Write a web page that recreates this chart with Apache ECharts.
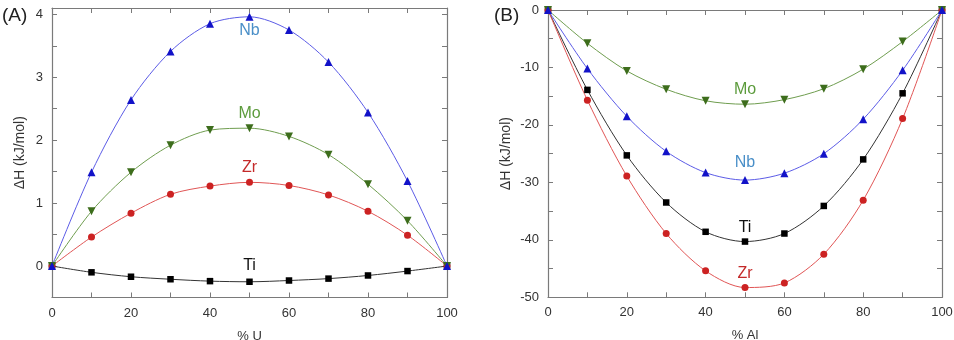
<!DOCTYPE html>
<html><head><meta charset="utf-8">
<script src="https://cdn.jsdelivr.net/npm/echarts@6/dist/echarts.min.js"></script>
<style>html,body{margin:0;padding:0;background:#fff}#c{width:954px;height:340px}</style>
</head><body><div id="c"></div>
<script>
const xVals = [0,10,20,30,40,50,60,70,80,90,100];
// Panel A: % U
const aNb = [0,1.49,2.64,3.41,3.85,3.96,3.75,3.24,2.44,1.35,0];
const aMo = [0,0.87,1.49,1.92,2.16,2.19,2.06,1.77,1.30,0.72,0];
const aZr = [0,0.46,0.84,1.14,1.27,1.33,1.28,1.13,0.87,0.49,0];
const aTi = [0,-0.10,-0.17,-0.21,-0.24,-0.25,-0.23,-0.20,-0.15,-0.08,0];
// Panel B: % Al
const bMo = [0,-5.8,-10.6,-13.8,-15.8,-16.4,-15.6,-13.7,-10.3,-5.5,0];
const bNb = [0,-10.2,-18.5,-24.6,-28.3,-29.6,-28.4,-25.0,-19.0,-10.5,0];
const bTi = [0,-13.9,-25.3,-33.5,-38.6,-40.3,-38.9,-34.1,-26.0,-14.5,0];
const bZr = [0,-15.7,-28.9,-38.9,-45.4,-48.3,-47.5,-42.5,-33.1,-18.9,0];
// label anchor points (data coords)
const aLabels = [["Nb",50,3.74],["Mo",50,2.42],["Zr",50,1.57],["Ti",50,0.0]];
const bLabels = [["Mo",50,-13.9],["Nb",50,-26.6],["Ti",50,-37.8],["Zr",50,-45.8]];

const FONT = '"Liberation Sans", Arial, sans-serif';
const styles = {
  Nb:{line:'#5b5be6', mark:'#1212c8', text:'#4a8fc8', symbol:'triangle', rot:0, size:8},
  Mo:{line:'#6f9d4f', mark:'#3d6d1c', text:'#5c9b3c', symbol:'triangle', rot:180, size:8},
  Zr:{line:'#e05555', mark:'#cc2222', text:'#c42a2a', symbol:'circle', rot:0, size:7},
  Ti:{line:'#333333', mark:'#000000', text:'#111111', symbol:'rect', rot:0, size:6.5}
};
function pair(ys){ return xVals.map((x,i)=>[x, ys[i]]); }
function mkSeries(name, ys, gi, lbl){
  const s = styles[name];
  return {
    type:'line', name, xAxisIndex:gi*2, yAxisIndex:gi*2, data:pair(ys),
    smooth:0.3, symbol:s.symbol, symbolRotate:s.rot, symbolSize:s.size,
    lineStyle:{color:s.line, width:1}, itemStyle:{color:s.mark},
    z:3,
    markPoint: lbl ? {symbol:'circle', symbolSize:0, silent:true,
      data:[{coord:[lbl[1],lbl[2]], label:{show:true, formatter:lbl[0], color:s.text, fontSize:16, fontFamily:FONT, position:'inside'}}]} : undefined
  };
}
const axisLine = {show:true, onZero:false, lineStyle:{color:'#7a7a7a', width:1.2}};
const tick = {show:true, inside:true, length:5, lineStyle:{color:'#7a7a7a'}};
const lab = {color:'#333', fontSize:13, fontFamily:FONT};
function xAx(gi, pos, name){
  return {type:'value', gridIndex:gi, position:pos, min:0, max:100, interval:10,
    axisLine, axisTick:tick, splitLine:{show:false},
    axisLabel: pos==='bottom' ? Object.assign({show:true, margin:9, formatter:v=> v%20===0 ? String(v):''}, lab) : {show:false},
    name: pos==='bottom'? name : '', nameLocation:'middle', nameGap:32,
    nameTextStyle:{color:'#333', fontSize:13, fontFamily:FONT}};
}
function yAx(gi, pos, min, max, iv, major){
  return {type:'value', gridIndex:gi, position:pos, min, max, interval:iv,
    axisLine, axisTick:tick, splitLine:{show:false},
    axisLabel: pos==='left' ? Object.assign({show:true, margin:9, formatter:v=> (Math.abs(v/major - Math.round(v/major))<1e-6) ? String(Math.round(v)) : ''}, lab) : {show:false},
    name: pos==='left' ? 'ΔH (kJ/mol)' : '', nameLocation:'middle', nameGap: gi===0?25:35, nameRotate:90,
    nameTextStyle:{color:'#333', fontSize:14, fontFamily:FONT}};
}
const chart = echarts.init(document.getElementById('c'), null, {renderer:'canvas'});
const series = [];
const aSets = {Nb:aNb, Mo:aMo, Zr:aZr, Ti:aTi};
const bSets = {Nb:bNb, Mo:bMo, Zr:bZr, Ti:bTi};
['Ti','Zr','Mo','Nb'].forEach(n=>{
  series.push(mkSeries(n, aSets[n], 0, aLabels.find(l=>l[0]===n)));
  series.push(mkSeries(n, bSets[n], 1, bLabels.find(l=>l[0]===n)));
});
chart.setOption({
  animation:false,
  grid:[{left:52, right:507, top:8, bottom:42.5, outerBoundsMode:'none', containLabel:false},
        {left:548, right:12, top:10, bottom:42.7, outerBoundsMode:'none', containLabel:false}],
  xAxis:[xAx(0,'bottom','% U'), xAx(0,'top',''), xAx(1,'bottom','% Al'), xAx(1,'top','')],
  yAxis:[yAx(0,'left',-0.5,4.1,0.5,1), yAx(0,'right',-0.5,4.1,0.5,1), yAx(1,'left',-50,0,5,10), yAx(1,'right',-50,0,5,10)],
  series,
  graphic:[
    {type:'text', left:2, top:6, style:{text:'(A)', fontSize:19, fontFamily:FONT, fill:'#222'}},
    {type:'text', left:494, top:6, style:{text:'(B)', fontSize:19, fontFamily:FONT, fill:'#222'}}
  ]
});
</script></body></html>
